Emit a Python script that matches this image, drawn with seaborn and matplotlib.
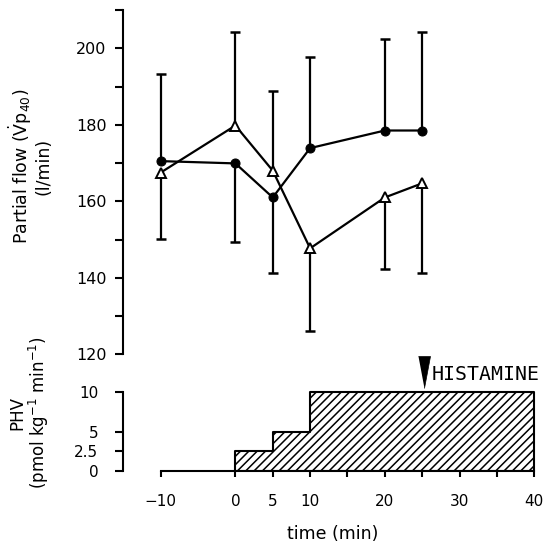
import numpy as np
import pandas as pd
import matplotlib
matplotlib.use("Agg")
import matplotlib.pyplot as plt
from matplotlib.ticker import MultipleLocator, FixedLocator
import seaborn as sns

# ---------------- data ----------------
time = [-10, 0, 5, 10, 20, 25]
flow_circle = [170.5, 169.9, 161.0, 173.9, 178.5, 178.5]
flow_triangle = [167.5, 179.8, 168.0, 147.7, 161.0, 164.7]
# one-sided error bar end values (same order as time)
circle_err_end = [193.3, 149.3, 141.2, 197.8, 202.3, 204.2]
triangle_err_end = [150.1, 204.2, 188.9, 126.1, 142.2, 141.3]

dose_time = [0, 5, 10, 40]
dose_value = [2.5, 5, 10, 10]
histamine_time = 25.3

upper_ticks = [120, 140, 160, 180, 200]
lower_ticks = [0, 2.5, 5, 10]
lower_ticklabels = ["0", "2.5", "5", "10"]
x_ticks = [-10, 0, 5, 10, 20, 30, 40]
x_minor = [15, 25, 35]

# ---------------- style ----------------
sns.set_style("ticks")
plt.rcParams["font.family"] = ["DejaVu Sans"]
plt.rcParams["hatch.linewidth"] = 1.1
plt.rcParams["axes.linewidth"] = 1.5
for k in ("text.color", "axes.labelcolor", "xtick.color", "ytick.color",
          "axes.edgecolor", "xtick.labelcolor", "ytick.labelcolor"):
    plt.rcParams[k] = "black"

W, H = 545, 543
fig = plt.figure(figsize=(W / 100, H / 100), dpi=100)

left = 123.3 / W
width = (541.8 - 123.3) / W
ax_top = fig.add_axes([left, 1 - 354.3 / H, width, (354.3 - 10) / H])
ax_bot = fig.add_axes([left, 1 - 470.7 / H, width, (470.7 - 353.1) / H])
for a in (ax_top, ax_bot):
    a.patch.set_alpha(0)

df = pd.DataFrame({"time": time, "circle": flow_circle, "triangle": flow_triangle,
                   "c_end": circle_err_end, "t_end": triangle_err_end})

# error bars (vertical lines + caps)
for col, endcol in (("circle", "c_end"), ("triangle", "t_end")):
    ax_top.vlines(df["time"], df[col], df[endcol], color="k", lw=1.6, zorder=1)
    ax_top.plot(df["time"], df[endcol], ls="none", marker="_", ms=7.5, mew=1.8,
                color="k", zorder=1)

sns.lineplot(data=df, x="time", y="circle", ax=ax_top, color="k", lw=1.6,
             marker="o", markersize=6.5, markeredgecolor="k", markerfacecolor="k",
             zorder=3)
sns.lineplot(data=df, x="time", y="triangle", ax=ax_top, color="k", lw=1.6,
             marker="^", markersize=7.5, markeredgecolor="k", markerfacecolor="white",
             markeredgewidth=1.4, zorder=4)

ax_top.set_xlim(-15, 41)
ax_top.set_ylim(120, 210)
ax_top.yaxis.set_major_locator(FixedLocator(upper_ticks))
ax_top.yaxis.set_minor_locator(MultipleLocator(10))
ax_top.tick_params(axis="y", which="both", length=6, width=1.5, direction="out",
                   labelsize=11.5, pad=6, color="k", labelcolor="k")
ax_top.spines["left"].set_bounds(120, 210)
for s in ("top", "right", "bottom"):
    ax_top.spines[s].set_visible(False)
ax_top.set_xticks([])
ax_top.set_xlabel("")
ax_top.set_ylabel("")

# ---------------- lower panel ----------------
ax_bot.fill_between(dose_time, dose_value, step="post", facecolor="white",
                    edgecolor="k", hatch="////", linewidth=1.5, zorder=2)
ax_bot.set_xlim(-15, 41)
ax_bot.set_ylim(0, 15)
ax_bot.set_yticks(lower_ticks)
ax_bot.set_yticklabels(lower_ticklabels)
ax_bot.set_xticks(x_ticks)
ax_bot.set_xticks(x_minor, minor=True)
ax_bot.tick_params(axis="y", length=6, width=1.5, direction="out", labelsize=11,
                   pad=12, color="k", labelcolor="k")
ax_bot.tick_params(axis="x", which="both", length=4.5, width=1.5, direction="out",
                   labelsize=11, pad=12, color="k", labelcolor="k")
ax_bot.spines["left"].set_bounds(0, 10)
ax_bot.spines["bottom"].set_bounds(-10, 40)
for s in ("top", "right"):
    ax_bot.spines[s].set_visible(False)
ax_bot.set_xlabel("time (min)", fontsize=12.5, labelpad=12, color="k")
ax_bot.set_ylabel("")

# histamine marker
arrow_verts = [(-6, 16), (6, 16), (0, -16)]
ax_bot.plot([histamine_time], [12.55], marker=arrow_verts, ms=23, color="k",
            mec="k", mew=0.5, zorder=5, clip_on=False)
ax_bot.text(histamine_time + 0.95, 12.3, "HISTAMINE", family="DejaVu Sans Mono",
            fontsize=14.3, ha="left", va="center", clip_on=False, color="k")

# y labels
fig.text(0.055, 1 - 166.5 / H, "Partial flow ($\\dot{\\mathrm{V}}$p$_{40}$)\n(l/min)",
         rotation=90, ha="center", va="center", multialignment="center", fontsize=12.5,
         linespacing=1.05, color="k")
fig.text(0.055, 1 - 413 / H, "PHV\n(pmol kg$^{-1}$ min$^{-1}$)",
         rotation=90, ha="center", va="center", multialignment="center", fontsize=12,
         linespacing=1.05, color="k")

fig.savefig("out.png", dpi=100)
